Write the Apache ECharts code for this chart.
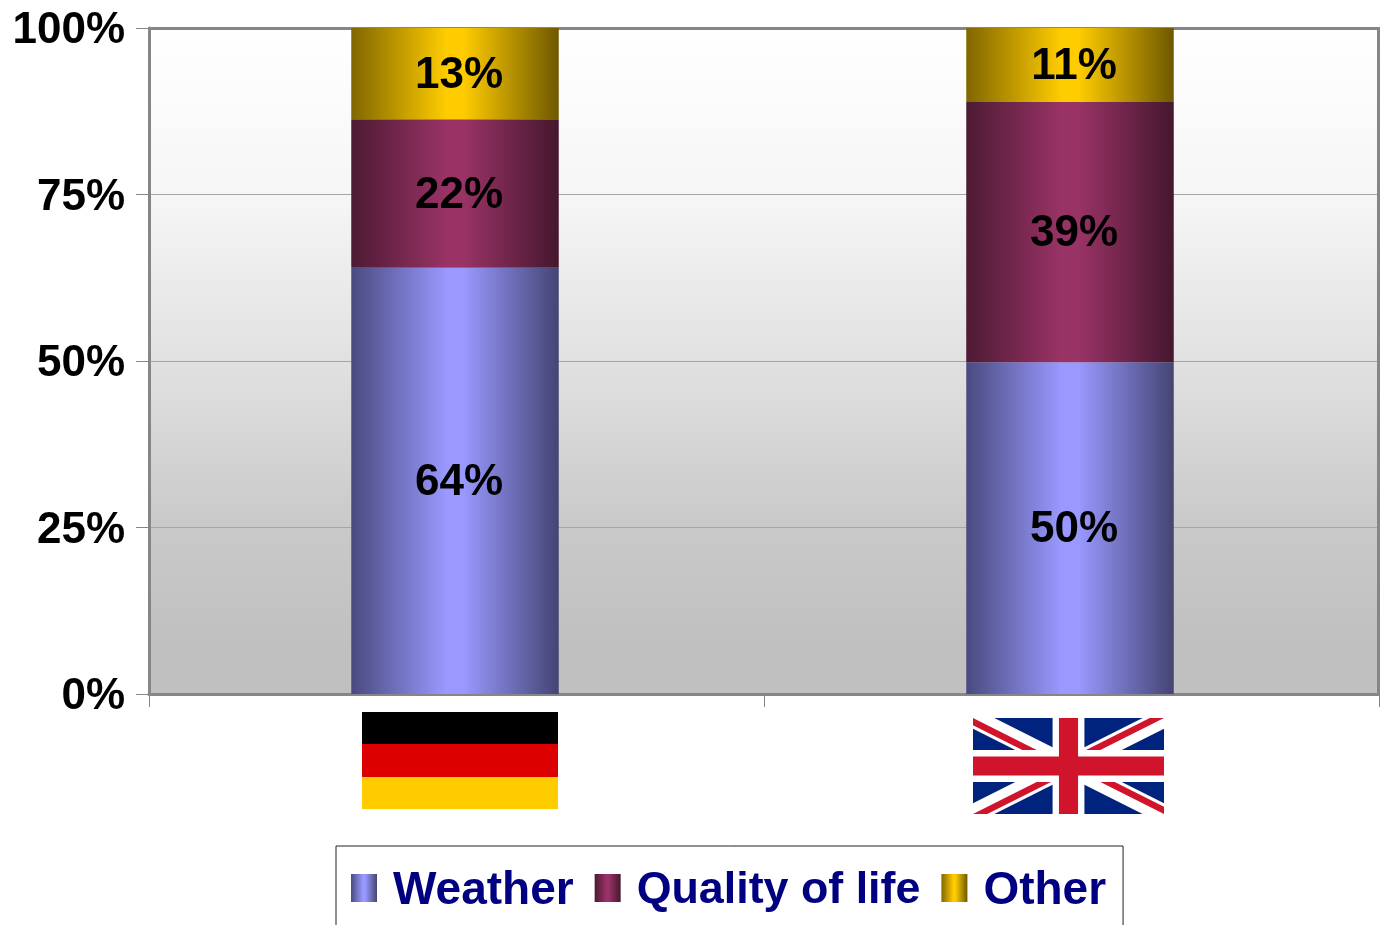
<!DOCTYPE html>
<html>
<head>
<meta charset="utf-8">
<title>Weather and quality of life</title>
<script src="https://cdn.jsdelivr.net/npm/echarts@6/dist/echarts.min.js"></script>
<style>
  html, body { margin: 0; padding: 0; background: #fff; overflow: hidden; }
  #chart { width: 1380px; height: 925px; }
</style>
</head>
<body>
<div id="chart"></div>
<script>
const categories = ['Germany', 'UK'];
const yTicks = [0, 25, 50, 75, 100];

// drawn heights, the printed labels in the source don't quite add up to 100
const weather = [64, 49.8];
const quality = [22.3, 39.1];
const other = [13.7, 11.1];
// empty side-by-side slot, nudges the stacks a little left of the category centre
const spacer = [0, 0];

const weatherLabels = ['64%', '50%'];
const qualityLabels = ['22%', '39%'];
const otherLabels = ['13%', '11%'];

const font = '"Liberation Sans", Arial, sans-serif';

const barGradient = (left, mid, right) => new echarts.graphic.LinearGradient(0, 0, 1, 0, [
  { offset: 0, color: left },
  { offset: 0.46, color: mid },
  { offset: 0.54, color: mid },
  { offset: 1, color: right },
]);

const makeSeries = (name, values, labels, colors) => ({
  name: name,
  type: 'bar',
  stack: 'total',
  barWidth: 207.5,
  barGap: 0,
  data: values,
  itemStyle: { color: barGradient(colors[0], colors[1], colors[2]) },
  label: {
    show: true,
    position: 'inside',
    offset: [4, 2],
    formatter: (p) => labels[p.dataIndex],
    color: '#000',
    fontFamily: font,
    fontWeight: 'bold',
    fontSize: 44,
  },
});

const ukFlag = 'data:image/svg+xml;charset=utf-8,' + encodeURIComponent(
  '<svg xmlns="http://www.w3.org/2000/svg" viewBox="0 0 60 30" width="191" height="96" preserveAspectRatio="none">' +
  '<clipPath id="t"><path d="M30,15h30v15zv15h-30zh-30v-15zv-15h30z"/></clipPath>' +
  '<rect width="60" height="30" fill="#00247d"/>' +
  '<path d="M0,0L60,30M60,0L0,30" stroke="#fff" stroke-width="6"/>' +
  '<path d="M0,0L60,30M60,0L0,30" clip-path="url(#t)" stroke="#cf142b" stroke-width="4"/>' +
  '<path d="M30,0v30M0,15h60" stroke="#fff" stroke-width="10"/>' +
  '<path d="M30,0v30M0,15h60" stroke="#cf142b" stroke-width="6"/>' +
  '</svg>'
);

const chart = echarts.init(document.getElementById('chart'), null, { renderer: 'canvas' });
chart.setOption({
  animation: false,
  backgroundColor: '#fff',
  grid: {
    left: 149,
    top: 28,
    width: 1230,
    height: 666,
    show: true,
    borderWidth: 0,
    backgroundColor: new echarts.graphic.LinearGradient(0, 0, 0, 1, [
      { offset: 0, color: '#ffffff' },
      { offset: 0.25, color: '#f6f6f6' },
      { offset: 0.5, color: '#e1e1e1' },
      { offset: 0.75, color: '#c9c9c9' },
      { offset: 0.93, color: '#c0c0c0' },
      { offset: 1, color: '#c0c0c0' },
    ]),
  },
  xAxis: {
    type: 'category',
    data: categories,
    axisLabel: { show: false },
    axisLine: { show: true, lineStyle: { color: '#868686', width: 3 } },
    axisTick: { show: true, length: 13, lineStyle: { color: '#868686', width: 1 } },
  },
  yAxis: {
    type: 'value',
    min: yTicks[0],
    max: yTicks[yTicks.length - 1],
    interval: 25,
    axisLabel: {
      formatter: '{t|{value}%}',
      margin: 24,
      rich: {
        t: { color: '#000', fontFamily: font, fontWeight: 'bold', fontSize: 44, padding: [6, 0, 0, 0] },
      },
    },
    axisLine: { show: true, lineStyle: { color: '#868686', width: 3 } },
    axisTick: { show: true, length: 13, lineStyle: { color: '#868686', width: 1 } },
    splitLine: { show: true, lineStyle: { color: '#a6a6a6', width: 1 } },
  },
  legend: {
    left: 336,
    top: 846,
    orient: 'horizontal',
    icon: 'rect',
    itemWidth: 26,
    itemHeight: 28,
    itemGap: 21,
    padding: [22, 17, 40, 15],
    borderColor: '#222',
    borderWidth: 1,
    formatter: (name) => (name === 'Quality of life' ? '{q|' + name + '}' : name),
    textStyle: {
      color: '#000080',
      fontFamily: font,
      fontWeight: 'bold',
      fontSize: 46,
      padding: [6, 0, 0, 11],
      rich: {
        q: { color: '#000080', fontFamily: font, fontWeight: 'bold', fontSize: 44.8 },
      },
    },
    data: ['Weather', 'Quality of life', 'Other'],
  },
  series: [
    makeSeries('Weather', weather, weatherLabels, ['#4a4a80', '#9999ff', '#444474']),
    makeSeries('Quality of life', quality, qualityLabels, ['#4d1a33', '#993366', '#45172e']),
    makeSeries('Other', other, otherLabels, ['#806600', '#ffcc00', '#6e5800']),
    { name: 'spacer', type: 'bar', stack: 'spacer', barWidth: 3, barGap: 0, silent: true, data: spacer },
  ],
  graphic: [
    // top and right edge of the plot frame, kept under the bars
    { type: 'line', silent: true, z: 1, shape: { x1: 148, y1: 28.5, x2: 1380, y2: 28.5 }, style: { stroke: '#868686', lineWidth: 3 } },
    { type: 'line', silent: true, z: 1, shape: { x1: 1378.5, y1: 28, x2: 1378.5, y2: 694 }, style: { stroke: '#868686', lineWidth: 3 } },
    // German flag
    { type: 'rect', silent: true, shape: { x: 362, y: 712, width: 196, height: 32 }, style: { fill: '#000000' } },
    { type: 'rect', silent: true, shape: { x: 362, y: 744, width: 196, height: 33 }, style: { fill: '#dd0000' } },
    { type: 'rect', silent: true, shape: { x: 362, y: 777, width: 196, height: 32 }, style: { fill: '#ffcc00' } },
    // UK flag
    { type: 'image', silent: true, style: { image: ukFlag, x: 973, y: 718, width: 191, height: 96 } },
  ],
});
</script>
</body>
</html>
